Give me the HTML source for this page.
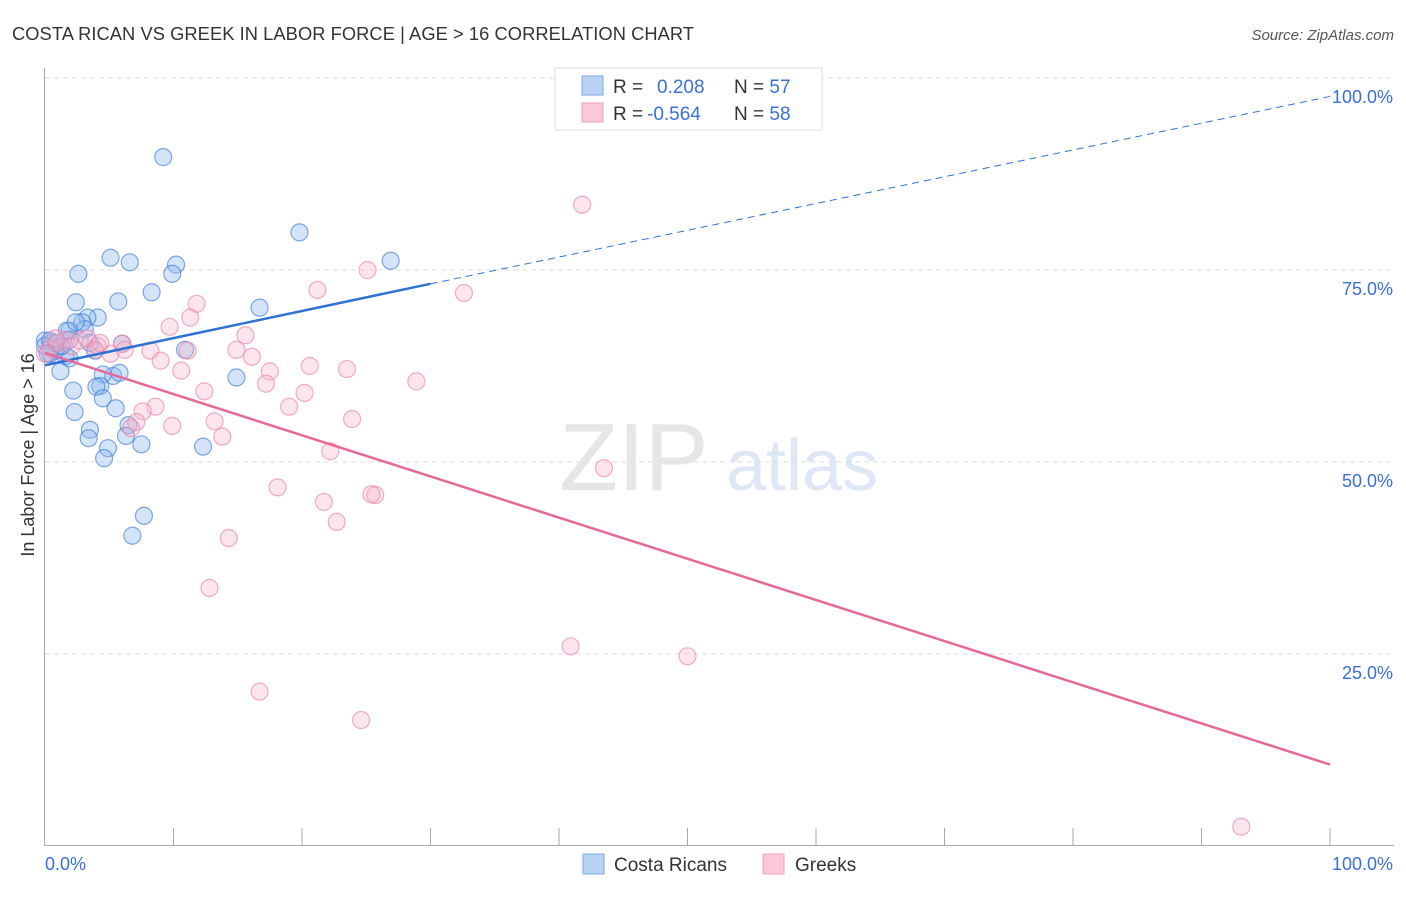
<!DOCTYPE html>
<html><head><meta charset="utf-8"><style>
body{margin:0;background:#fff;font-family:"Liberation Sans",sans-serif;}
svg text{font-family:"Liberation Sans",sans-serif;}
</style></head><body>
<svg id="chart" width="1406" height="892">
<text x="12" y="40" font-size="18.3" fill="#333" textLength="682">COSTA RICAN VS GREEK IN LABOR FORCE | AGE &gt; 16 CORRELATION CHART</text>
<text x="1394" y="40" font-size="15" fill="#555" font-style="italic" text-anchor="end">Source: ZipAtlas.com</text>
<text x="634" y="490" font-size="96" fill="#e6e6e6" font-family="Liberation Serif" text-anchor="middle">ZIP</text>
<text x="802" y="490" font-size="72" fill="#dde7f5" text-anchor="middle">atlas</text>
<g id="grid"></g><g id="axes"></g><g id="pts"></g><g id="trends"></g>
<text x="34" y="455" font-size="18" fill="#333" text-anchor="middle" transform="rotate(-90 34 455)">In Labor Force | Age &gt; 16</text>
<g>
<rect x="555" y="68" width="267" height="62" fill="#fff" stroke="#ddd"/>
<rect x="582" y="76" width="21" height="19" fill="#b8d3f5" stroke="#7aa8e8"/>
<rect x="582" y="103" width="21" height="19" fill="#fac8d8" stroke="#f0a0b8"/>
<text x="613" y="93" font-size="19" fill="#333">R = <tspan fill="#3a6fd8" x="657">0.208</tspan><tspan fill="#333" x="734">N = </tspan><tspan fill="#3a6fd8">57</tspan></text>
<text x="613" y="120" font-size="19" fill="#333">R = <tspan fill="#3a6fd8" x="647">-0.564</tspan><tspan fill="#333" x="734">N = </tspan><tspan fill="#3a6fd8">58</tspan></text>
</g>
<g>
<rect x="583" y="854" width="21" height="20" fill="#b8d3f5" stroke="#7aa8e8"/>
<text x="614" y="871" font-size="19" fill="#333">Costa Ricans</text>
<rect x="763" y="854" width="21" height="20" fill="#fac8d8" stroke="#f0a0b8"/>
<text x="795" y="871" font-size="19" fill="#333">Greeks</text>
</g>
</svg>
<script>
const yTicks=[25,50,75,100];
const yTickLabels=["25.0%","50.0%","75.0%","100.0%"];
const blueX=[9.2,19.8,26.9,5.1,6.6,10.2,2.6,9.9,8.3,2.4,5.7,16.7,4.1,3.3,2.9,1.9,3.1,1.7,3.5,0.5,0,1.2,0.8,1.6,10.9,3.9,0.4,1.9,1.2,5.3,4.5,14.9,5.8,4.3,4.0,2.2,4.5,5.5,2.3,3.5,6.5,3.4,6.3,7.5,4.9,12.3,4.6,7.7,6.8,0,0.4,0.9,1.3,0.2,6.0,1.9,2.4];
const blueY=[89.7,79.9,76.2,76.6,76.0,75.7,74.5,74.5,72.1,70.8,70.9,70.1,68.8,68.8,68.2,67.1,67.3,67.1,65.5,65.5,65.8,65.1,64.5,63.8,64.6,64.5,64.1,63.5,61.8,61.2,61.4,61.0,61.6,59.9,59.8,59.3,58.3,57.0,56.5,54.2,54.8,53.1,53.4,52.3,51.8,52.0,50.5,43.0,40.4,65.1,65.8,65.5,65.1,64.1,65.4,65.9,68.2];
const pinkX=[41.8,25.1,32.6,21.2,11.8,11.3,9.7,15.6,6.0,8.2,11.1,14.9,16.1,9.0,10.6,20.6,23.5,17.5,17.2,12.4,28.9,20.2,19.0,8.6,7.6,13.2,23.9,9.9,7.1,6.7,13.8,22.2,18.1,43.5,21.7,25.7,25.4,22.7,14.3,12.8,40.9,50.0,16.7,24.6,93.1,0.4,1.0,1.6,2.1,2.7,3.9,5.1,6.2,0,3.3,4.1,4.3,0.8];
const pinkY=[83.5,75.0,72.0,72.4,70.6,68.8,67.6,66.5,65.4,64.5,64.5,64.6,63.7,63.2,61.9,62.5,62.1,61.8,60.2,59.2,60.5,59.0,57.2,57.2,56.6,55.3,55.6,54.7,55.2,54.4,53.3,51.4,46.7,49.2,44.8,45.7,45.8,42.2,40.1,33.6,26.0,24.7,20.1,16.4,2.5,64.8,65.5,65.9,65.1,65.8,64.6,64.1,64.6,64.1,66.1,65.1,65.5,66.1];
const blueTrend=[62.6,73.2,97.6];
const pinkTrend=[64.2,10.6];
const NS="http://www.w3.org/2000/svg";
const X=v=>45+v*12.85, Y=v=>846-v*7.68;
function mk(tag,attrs,parent){const e=document.createElementNS(NS,tag);for(const k in attrs)e.setAttribute(k,attrs[k]);document.getElementById(parent).appendChild(e);return e;}
yTicks.forEach((t,i)=>{
 const l=mk('line',{x1:45,x2:1394,y1:Y(t),y2:Y(t),stroke:'#ddd','stroke-dasharray':'5,4'},'grid');
 
 
 const tx=mk('text',{x:1393,y:Y(t)+25,'font-size':18,fill:'#3a6fd8','text-anchor':'end'},'grid');
 tx.textContent=yTickLabels[i];
 
 
});
mk('line',{x1:44.5,x2:44.5,y1:68,y2:846,stroke:'#aaa'},'axes');
mk('line',{x1:44,x2:1394,y1:845.5,y2:845.5,stroke:'#aaa'},'axes');
for(let i=1;i<=10;i++){mk('line',{x1:45+i*128.5,x2:45+i*128.5,y1:828,y2:846,stroke:'#aaa'},'axes');}
const xl0=mk('text',{x:45,y:870,'font-size':18,fill:'#3a6fd8'},'axes');xl0.textContent='0.0%';


const xl1=mk('text',{x:1393,y:870,'font-size':18,fill:'#3a6fd8','text-anchor':'end'},'axes');xl1.textContent='100.0%';


blueX.forEach((v,i)=>{const c=mk('circle',{cx:X(v),cy:Y(blueY[i]),r:8.5,fill:'rgba(140,185,240,0.38)',stroke:'rgba(60,125,215,0.65)','stroke-width':1.2},'pts');
 
 });
pinkX.forEach((v,i)=>{const c=mk('circle',{cx:X(v),cy:Y(pinkY[i]),r:8.5,fill:'rgba(248,175,200,0.33)',stroke:'rgba(235,130,165,0.65)','stroke-width':1.2},'pts');
 
 });
const b1=mk('line',{x1:X(0),y1:Y(blueTrend[0]),x2:X(30),y2:Y(blueTrend[1]),stroke:'#2f72d6','stroke-width':2.5},'trends');


const b2=mk('line',{x1:X(30),y1:Y(blueTrend[1]),x2:X(100),y2:Y(blueTrend[2]),stroke:'#2f72d6','stroke-width':1,'stroke-dasharray':'7,5'},'trends');


const p1=mk('line',{x1:X(0),y1:Y(pinkTrend[0]),x2:X(100),y2:Y(pinkTrend[1]),stroke:'#e56897','stroke-width':2.5},'trends');


</script>
</body></html>
